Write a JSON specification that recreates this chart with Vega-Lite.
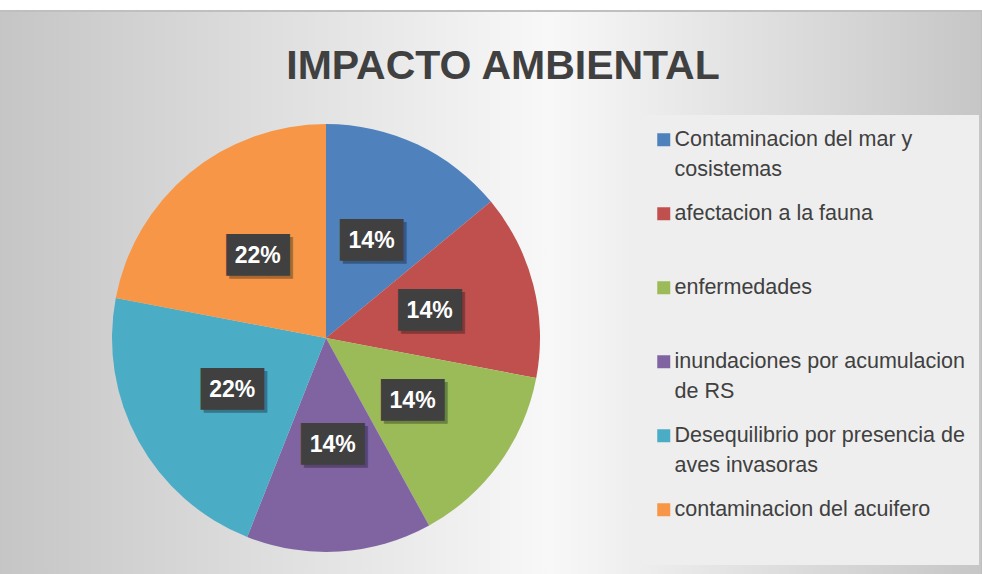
{
  "$schema": "https://vega.github.io/schema/vega-lite/v6.json",
  "width": 1312,
  "height": 654,
  "autosize": {"type": "none"},
  "padding": {"left": -330, "top": 11, "right": 0, "bottom": -91},
  "background": "white",
  "title": {
    "text": "IMPACTO AMBIENTAL",
    "anchor": "middle",
    "frame": "group",
    "dx": 177,
    "offset": -78,
    "font": "Liberation Sans",
    "fontSize": 41,
    "fontWeight": "bold",
    "color": "#404040"
  },
  "config": {"view": {"stroke": null}},
  "datasets": {
    "impacto": [
      {"categoria": "Contaminacion del mar y cosistemas", "valor": 0.14, "orden": 1},
      {"categoria": "afectacion a la fauna", "valor": 0.14, "orden": 2},
      {"categoria": "enfermedades", "valor": 0.14, "orden": 3},
      {"categoria": "inundaciones por acumulacion de RS", "valor": 0.14, "orden": 4},
      {"categoria": "Desequilibrio por presencia de aves invasoras", "valor": 0.22, "orden": 5},
      {"categoria": "contaminacion del acuifero", "valor": 0.22, "orden": 6}
    ],
    "fondo": [{"area": "fondo"}]
  },
  "layer": [
    {
      "data": {"name": "fondo"},
      "mark": {
        "type": "rect",
        "stroke": "#bfbfbf",
        "strokeWidth": 2,
        "color": {
          "gradient": "linear",
          "x1": 0, "y1": 0, "x2": 1, "y2": 0,
          "stops": [
            {"offset": 0, "color": "#b0b0b0"},
            {"offset": 0.2576, "color": "#c6c6c6"},
            {"offset": 0.67, "color": "#f8f8f8"},
            {"offset": 1, "color": "#c6c6c6"}
          ]
        }
      },
      "encoding": {}
    },
    {
      "data": {"name": "impacto"},
      "mark": {"type": "arc", "outerRadius": 214},
      "encoding": {
        "theta": {"field": "valor", "type": "quantitative", "stack": true},
        "order": {"field": "orden", "type": "quantitative"},
        "color": {
          "field": "categoria",
          "type": "nominal",
          "scale": {
            "domain": [
              "Contaminacion del mar y cosistemas",
              "afectacion a la fauna",
              "enfermedades",
              "inundaciones por acumulacion de RS",
              "Desequilibrio por presencia de aves invasoras",
              "contaminacion del acuifero"
            ],
            "range": ["#4F81BD", "#C0504D", "#9BBB59", "#8064A2", "#4BACC6", "#F79646"]
          },
          "legend": {
            "orient": "none",
            "legendX": 973,
            "legendY": 104,
            "title": null,
            "fillColor": "#eeeeee",
            "padding": 14,
            "rowPadding": 21,
            "labelFont": "Liberation Sans",
            "labelFontSize": 21.5,
            "labelColor": "#404040",
            "labelLimit": 500,
            "labelOffset": 0,
            "symbolOffset": -4,
            "symbolType": "square",
            "symbolSize": 169,
            "symbolStrokeWidth": 0,
            "symbolOpacity": 1,
            "labelExpr": "datum.label == 'Contaminacion del mar y cosistemas' ? ['Contaminacion del mar y', 'cosistemas'] : datum.label == 'inundaciones por acumulacion de RS' ? ['inundaciones por acumulacion', 'de RS'] : datum.label == 'Desequilibrio por presencia de aves invasoras' ? ['Desequilibrio por presencia de', 'aves invasoras'] : [datum.label, '']",
            "encode": {
              "labels": {"update": {"lineHeight": {"value": 30}}}
            }
          }
        }
      }
    },
    {
      "data": {"name": "impacto"},
      "mark": {
        "type": "text", "radius": 107, "text": "███", "font": "DejaVu Sans Mono",
        "fontSize": 35, "color": "#000000", "opacity": 0.3, "dx": 3, "dy": 3, "baseline": "middle"
      },
      "encoding": {
        "theta": {"field": "valor", "type": "quantitative", "stack": true},
        "order": {"field": "orden", "type": "quantitative"},
        "detail": {"field": "categoria"}
      }
    },
    {
      "data": {"name": "impacto"},
      "mark": {
        "type": "text", "radius": 107, "text": "███", "font": "DejaVu Sans Mono",
        "fontSize": 35, "color": "#404040", "baseline": "middle"
      },
      "encoding": {
        "theta": {"field": "valor", "type": "quantitative", "stack": true},
        "order": {"field": "orden", "type": "quantitative"},
        "detail": {"field": "categoria"}
      }
    },
    {
      "data": {"name": "impacto"},
      "mark": {
        "type": "text", "radius": 107, "font": "Liberation Sans", "fontSize": 23,
        "fontWeight": "bold", "color": "#ffffff", "baseline": "middle"
      },
      "encoding": {
        "theta": {"field": "valor", "type": "quantitative", "stack": true},
        "order": {"field": "orden", "type": "quantitative"},
        "text": {"field": "valor", "type": "quantitative", "format": ".0%"},
        "detail": {"field": "categoria"}
      }
    }
  ]
}
